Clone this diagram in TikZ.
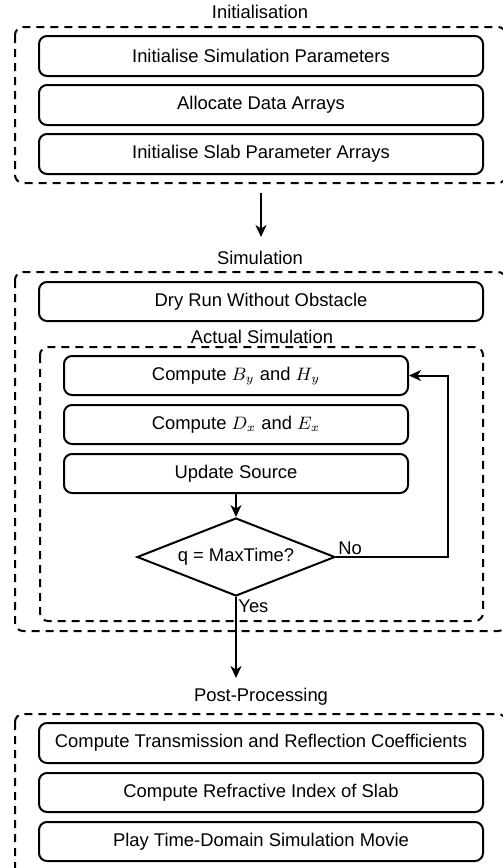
\documentclass[tikz,border=0pt]{standalone}
\usepackage{fontspec}
\setmainfont{Liberation Sans}
\usetikzlibrary{arrows.meta}
\usetikzlibrary{shapes.geometric}
\usetikzlibrary{positioning}

\tikzset{
	stepBox/.style={draw, line width=1pt, rounded corners=4pt, minimum width=222pt, minimum height=20pt, inner sep=0pt},
	loopBox/.style={stepBox, minimum width=172pt, minimum height=19.5pt},
	groupFrame/.style={draw, line width=1pt, dash pattern=on 4pt off 3pt, rounded corners=4pt},
	groupTitle/.style={inner sep=0pt},
	decisionNode/.style={draw, diamond, line width=1pt, aspect=2.5, inner sep=1pt, minimum width=99pt, minimum height=39pt},
	flowArrow/.style={line width=1pt, -{Stealth[length=6pt, width=5.5pt, inset=1.8pt]}},
	branchLabel/.style={inner sep=1pt}
}
\newcommand{\drawGroupFrame}[2]{
	\draw[groupFrame] (#1) rectangle (#2);
}

\begin{document}
\begin{tikzpicture}[x=0.5pt, y=-0.5pt, font=\fontsize{9.2}{11}\selectfont]
		\useasboundingbox (0,0) rectangle (503,868);

		% Initialisation
		\coordinate (F1_L) at (15,27);
		\coordinate (F1_R) at (506,183);
		\drawGroupFrame{F1_L}{F1_R}
		\node[groupTitle] (initTitle) at (260,12) {Initialisation};
		\node[stepBox] (initParams) at (261,56) {Initialise Simulation Parameters};
		\node[stepBox] (allocArrays) at (261,105) {Allocate Data Arrays};
		\node[stepBox] (slabArrays) at (261,154) {Initialise Slab Parameter Arrays};

		\coordinate (A1_S) at (261,193);
		\coordinate (A1_E) at (261,237);
		\draw[flowArrow] (A1_S) -- (A1_E);

		% Simulation
		\coordinate (F2_L) at (15,272);
		\coordinate (F2_R) at (506,631);
		\drawGroupFrame{F2_L}{F2_R}
		\node[groupTitle] (simTitle) at (260,258) {Simulation};
		\node[stepBox, minimum height=19.5pt] (dryRun) at (261,301.5) {Dry Run Without Obstacle};

		\coordinate (F3_L) at (40,347);
		\coordinate (F3_R) at (483,621);
		\drawGroupFrame{F3_L}{F3_R}
		\node[groupTitle] (actualTitle) at (262,337) {Actual Simulation};
		\node[loopBox] (computeB) at (236,375.5) {Compute $B_y$ and $H_y$};
		\node[loopBox] (computeD) at (236,424.5) {Compute $D_x$ and $E_x$};
		\node[loopBox] (updateSrc) at (236,473.5) {Update Source};
		\node[decisionNode] (maxTime) at (236,557) {q = MaxTime?};

		\coordinate (loopRight) at (448,0);
		\draw[flowArrow] (updateSrc) -- (maxTime);
		\draw[flowArrow] (maxTime.east) -- (maxTime.east -| loopRight) |- (computeB.east);
		\node[branchLabel, anchor=south west] (noLabel) at (maxTime.east) {No};
		\node[branchLabel, anchor=north west] (yesLabel) at (maxTime.south) {Yes};

		\coordinate (A2_E) at (236,678);
		\draw[flowArrow] (maxTime.south) -- (A2_E);

		% Post-Processing
		\coordinate (F4_L) at (15,714);
		\coordinate (F4_R) at (506,885);
		\drawGroupFrame{F4_L}{F4_R}
		\node[groupTitle] (postTitle) at (261,697) {Post-Processing};
		\node[stepBox] (coeffs) at (261,743) {Compute Transmission and Reflection Coefficients};
		\node[stepBox, minimum height=19.5pt] (refIndex) at (261,792.5) {Compute Refractive Index of Slab};
		\node[stepBox, minimum height=19.5pt] (movie) at (261,841.5) {Play Time-Domain Simulation Movie};
	\end{tikzpicture}
\end{document}
